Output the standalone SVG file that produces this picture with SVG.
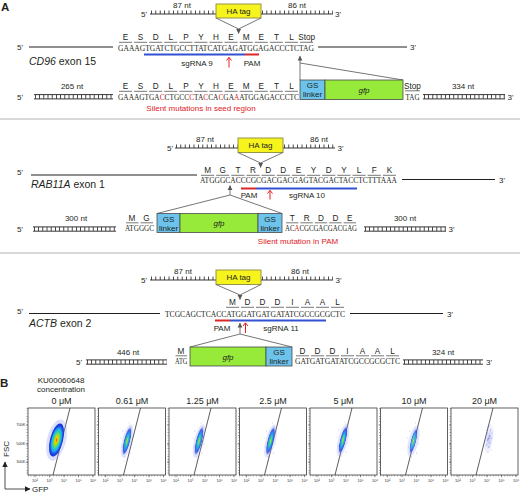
<svg xmlns="http://www.w3.org/2000/svg" width="520" height="493" viewBox="0 0 520 493">
<defs>
<style>
text{font-family:"Liberation Sans",Arial,"DejaVu Sans",sans-serif;fill:#231f20}
.t8{font-size:8px}
.m{text-anchor:middle}
.aa{font-size:8.2px;text-anchor:middle}
.seq{font-family:"Liberation Serif","Times New Roman",serif;font-size:7.6px}
.r{fill:#e0201e}
.gene{font-size:10.5px}
.ttl{font-size:9px;text-anchor:middle}
.tiny{font-size:4px;text-anchor:middle;fill:#333}
.tinyr{font-size:4px;text-anchor:end;fill:#333}
.ln{stroke:#231f20;stroke-width:1;fill:none}
.ul{stroke:#555;stroke-width:0.8}
.gl{stroke:#666;stroke-width:0.9;fill:none}
.base{stroke:#231f20;stroke-width:0.9}
.tk{stroke:#231f20;stroke-width:3.4;stroke-dasharray:0.8 3.6}
.dl{stroke:#231f20;stroke-width:0.9}
.rung{stroke:#231f20;stroke-width:4.2;stroke-dasharray:0.8 3.4}
.ha{fill:#f6f41c;stroke:#8a8a40;stroke-width:0.9}
.gs{fill:#6cc3ec;stroke:#4a4a4a;stroke-width:0.8}
.gfp{fill:#97ea3a;stroke:#4a4a4a;stroke-width:0.8}
.sg{stroke:#3250d2;stroke-width:2}
.pam{stroke:#dc2626;stroke-width:2}
.ra{stroke:#e0201e;stroke-width:1;fill:none}
.sep{stroke:#b4b4b4;stroke-width:1.2}
.fr{fill:#fff;stroke:#3a3a3a;stroke-width:0.8}
.gate{stroke:#333;stroke-width:0.8}
</style>
<marker id="ag" markerWidth="6" markerHeight="6" refX="4.5" refY="3" orient="auto" markerUnits="userSpaceOnUse"><path d="M0,0.6 L4.8,3 L0,5.4 z" fill="#555"/></marker>
<marker id="ak" markerWidth="7" markerHeight="7" refX="5" refY="3.5" orient="auto" markerUnits="userSpaceOnUse"><path d="M0,0.8 L5.5,3.5 L0,6.2 z" fill="#231f20"/></marker>
<radialGradient id="gBig">
<stop offset="0" stop-color="#ff2a00"/>
<stop offset="0.14" stop-color="#ffc400"/>
<stop offset="0.32" stop-color="#9be021"/>
<stop offset="0.5" stop-color="#2fd2a8"/>
<stop offset="0.68" stop-color="#1ea8f0"/>
<stop offset="0.86" stop-color="#1a3fe6"/>
<stop offset="1" stop-color="#1a30d0"/>
</radialGradient>
<radialGradient id="gSm">
<stop offset="0" stop-color="#c6e030"/>
<stop offset="0.25" stop-color="#46d488"/>
<stop offset="0.5" stop-color="#22a4ee"/>
<stop offset="0.8" stop-color="#2a44e2" stop-opacity="0.85"/>
<stop offset="1" stop-color="#6070f0" stop-opacity="0.2"/>
</radialGradient>
<radialGradient id="gSp">
<stop offset="0" stop-color="#6a78e8" stop-opacity="0.45"/>
<stop offset="1" stop-color="#9aa4f0" stop-opacity="0.05"/>
</radialGradient>
<g id="frame">
<rect class="fr" x="0" y="0" width="67" height="67"/>
<line x1="-0.8" y1="0" x2="-0.8" y2="67" stroke="#555" stroke-width="1.4" stroke-dasharray="0.4 2.3"/>
<line x1="0" y1="67.8" x2="67" y2="67.8" stroke="#555" stroke-width="1.4" stroke-dasharray="0.4 2.4"/>
<path d="M-2,17H0M-2,36H0M-2,54H0M7,67V69.3M21.5,67V69.3M36,67V69.3M50.5,67V69.3M65,67V69.3" stroke="#333" stroke-width="0.5"/>
<line class="gate" x1="25" y1="67" x2="42" y2="0"/>
<text class="tiny" x="7" y="73.5">10²</text>
<text class="tiny" x="21.5" y="73.5">10³</text>
<text class="tiny" x="36" y="73.5">10⁴</text>
<text class="tiny" x="50.5" y="73.5">10⁵</text>
<text class="tiny" x="65" y="73.5">10⁶</text>
</g>
<g id="dots" fill="#5566e6" opacity="0.55">
<circle cx="-4" cy="-10" r="0.5"/><circle cx="3" cy="12" r="0.5"/><circle cx="-5" cy="6" r="0.45"/>
<circle cx="4" cy="-14" r="0.45"/><circle cx="-2" cy="16" r="0.5"/><circle cx="5" cy="3" r="0.45"/>
<circle cx="-6" cy="-3" r="0.4"/><circle cx="2" cy="-18" r="0.45"/><circle cx="-3" cy="20" r="0.4"/>
</g>
<g id="sparse" fill="#5a66e0">
<circle cx="-1" cy="-12" r="0.7" opacity="0.6"/><circle cx="1.5" cy="-9" r="0.6" opacity="0.7"/><circle cx="-2" cy="-6" r="0.7" opacity="0.5"/>
<circle cx="0.5" cy="-3" r="0.8" opacity="0.7"/><circle cx="2.5" cy="-1" r="0.6" opacity="0.5"/><circle cx="-1.5" cy="1" r="0.7" opacity="0.6"/>
<circle cx="1" cy="4" r="0.6" opacity="0.7"/><circle cx="-2.5" cy="6" r="0.6" opacity="0.5"/><circle cx="0" cy="8" r="0.7" opacity="0.6"/>
<circle cx="2" cy="11" r="0.5" opacity="0.5"/><circle cx="-1" cy="13" r="0.6" opacity="0.5"/><circle cx="3" cy="-6" r="0.5" opacity="0.5"/>
<circle cx="-3" cy="-9" r="0.5" opacity="0.4"/><circle cx="1" cy="-14" r="0.5" opacity="0.4"/><circle cx="-0.5" cy="-0.5" r="0.8" opacity="0.7"/>
</g>
</defs>
<rect width="520" height="493" fill="#fff"/>

<g id="sep">
<line class="sep" x1="0" y1="119" x2="520" y2="119"/>
<line class="sep" x1="0" y1="253" x2="520" y2="253"/>
</g>

<!-- ============ Panel A1: CD96 ============ -->
<g id="cd96">
<text x="1" y="10.5" font-size="11.5" font-weight="bold">A</text>
<g id="cd96-donor">
<text class="t8" x="141" y="16.5">5'</text>
<line class="base" x1="150" y1="14" x2="216" y2="14"/>
<line class="tk" x1="151" y1="12.2" x2="216" y2="12.2"/>
<text class="t8 m" x="182" y="8">87 nt</text>
<line class="base" x1="261" y1="14" x2="333" y2="14"/>
<line class="tk" x1="262" y1="12.2" x2="333" y2="12.2"/>
<text class="t8 m" x="297" y="8">86 nt</text>
<text class="t8" x="335" y="16.5">3'</text>
<rect class="ha" x="216" y="4" width="45" height="14"/>
<text class="t8 m" x="238.5" y="14">HA tag</text>
<path class="gl" d="M216,18 L238.6,29 L261,18"/>
<line class="gl" x1="238.6" y1="29" x2="238.6" y2="33.5" marker-end="url(#ag)"/>
</g>
<g id="cd96-locus">
<text class="t8" x="17" y="50">5'</text>
<line class="ln" x1="29" y1="47" x2="113" y2="47"/>
<text class="gene" x="29" y="64.5"><tspan font-style="italic">CD96</tspan> exon 15</text>
<text class="aa" y="40"><tspan x="125.5">E</tspan><tspan x="140.6">S</tspan><tspan x="155.7">D</tspan><tspan x="170.8">L</tspan><tspan x="185.9">P</tspan><tspan x="200.9">Y</tspan><tspan x="216">H</tspan><tspan x="231.1">E</tspan><tspan x="246.2">M</tspan><tspan x="261.3">E</tspan><tspan x="276.4">T</tspan><tspan x="291.5">L</tspan><tspan x="306.6">Stop</tspan></text>
<line class="ul" x1="119" y1="42.3" x2="314" y2="42.3" stroke-dasharray="13.08 2"/>
<text class="seq" x="118" y="50.5" textLength="196" lengthAdjust="spacingAndGlyphs">GAAAGTGATCTGCCTTATCATGAGATGGAGACCCTCTAG</text>
<line class="ln" x1="318" y1="47" x2="407" y2="47"/>
<text class="t8" x="410" y="50">3'</text>
<line class="sg" x1="144" y1="54.5" x2="245" y2="54.5"/>
<line class="pam" x1="245" y1="54.5" x2="259" y2="54.5"/>
<text class="t8 m" x="197" y="66">sgRNA 9</text>
<text class="t8 m" x="252" y="66">PAM</text>
<path class="ra" d="M229,67.5 V57.5 M226.5,60.5 L229,57.3 L231.5,60.5"/>
</g>
<g id="cd96-insert">
<line class="gl" x1="300" y1="80" x2="300" y2="56" marker-end="url(#ag)"/>
<line class="gl" x1="300" y1="63" x2="403" y2="80"/>
<text class="t8" x="17" y="99.5">5'</text>
<line class="dl" x1="34" y1="94.6" x2="113" y2="94.6"/>
<line class="dl" x1="34" y1="98.9" x2="113" y2="98.9"/>
<line class="rung" x1="35" y1="96.75" x2="113" y2="96.75"/>
<text class="t8 m" x="72" y="89">265 nt</text>
<text class="aa" y="89"><tspan x="125.5">E</tspan><tspan x="140.6">S</tspan><tspan x="155.7">D</tspan><tspan x="170.8">L</tspan><tspan x="185.9">P</tspan><tspan x="200.9">Y</tspan><tspan x="216">H</tspan><tspan x="231.1">E</tspan><tspan x="246.2">M</tspan><tspan x="261.3">E</tspan><tspan x="276.4">T</tspan><tspan x="291.5">L</tspan></text>
<line class="ul" x1="119" y1="91.3" x2="299" y2="91.3" stroke-dasharray="13.08 2"/>
<text class="seq" x="118" y="99.5" textLength="181" lengthAdjust="spacingAndGlyphs">GAAAGTGA<tspan class="r">C</tspan>CTGCC<tspan class="r">C</tspan>TA<tspan class="r">C</tspan>CA<tspan class="r">C</tspan>GA<tspan class="r">A</tspan>ATGGAGACCCTC</text>
<text class="t8 m r" x="201" y="111">Silent mutations in seed region</text>
<rect class="gs" x="300" y="80" width="25" height="19.5"/>
<rect class="gfp" x="325" y="80" width="78" height="19.5"/>
<text class="t8 m" x="312.5" y="88.3">GS</text>
<text class="t8 m" x="312.5" y="97.3">linker</text>
<text class="t8 m" x="364" y="92.5" font-style="italic">gfp</text>
<text class="aa" x="412.5" y="88.5">Stop</text>
<line class="ul" x1="405" y1="90.8" x2="420" y2="90.8"/>
<text class="seq" x="405.5" y="99.5" textLength="14" lengthAdjust="spacingAndGlyphs">TAG</text>
<line class="dl" x1="423" y1="94.6" x2="505" y2="94.6"/>
<line class="dl" x1="423" y1="98.9" x2="505" y2="98.9"/>
<line class="rung" x1="424" y1="96.75" x2="505" y2="96.75"/>
<text class="t8 m" x="463" y="89">334 nt</text>
<text class="t8" x="507.5" y="99.5">3'</text>
</g>
</g>

<!-- ============ Panel A2: RAB11A ============ -->
<g id="rab11a">
<g id="rab11a-donor">
<text class="t8" x="167" y="150.5">5'</text>
<line class="base" x1="175" y1="148" x2="238" y2="148"/>
<line class="tk" x1="176" y1="146.2" x2="238" y2="146.2"/>
<text class="t8 m" x="205" y="142">87 nt</text>
<line class="base" x1="283" y1="148" x2="335" y2="148"/>
<line class="tk" x1="284" y1="146.2" x2="335" y2="146.2"/>
<text class="t8 m" x="319" y="142">86 nt</text>
<text class="t8" x="337.5" y="150.5">3'</text>
<rect class="ha" x="238" y="138" width="45" height="14.5"/>
<text class="t8 m" x="260.5" y="148.3">HA tag</text>
<path class="gl" d="M238,152.5 L260.6,163 L283,152.5"/>
<line class="gl" x1="260.6" y1="163" x2="260.6" y2="167.5" marker-end="url(#ag)"/>
</g>
<g id="rab11a-locus">
<text class="t8" x="17" y="175">5'</text>
<line class="ln" x1="31" y1="175" x2="197" y2="175"/>
<text class="gene" x="31" y="187.5"><tspan font-style="italic">RAB11A</tspan> exon 1</text>
<text class="aa" y="173"><tspan x="207.6">M</tspan><tspan x="222.7">G</tspan><tspan x="237.9">T</tspan><tspan x="253">R</tspan><tspan x="268.2">D</tspan><tspan x="283.3">D</tspan><tspan x="298.5">E</tspan><tspan x="313.6">Y</tspan><tspan x="328.8">D</tspan><tspan x="343.9">Y</tspan><tspan x="359.1">L</tspan><tspan x="374.2">F</tspan><tspan x="389.4">K</tspan></text>
<line class="ul" x1="201" y1="175.3" x2="397" y2="175.3" stroke-dasharray="13.15 2"/>
<text class="seq" x="200" y="183" textLength="197" lengthAdjust="spacingAndGlyphs">ATGGGCACCCGCGACGACGAGTACGACTACCTCTTTAAA</text>
<line class="ln" x1="402" y1="179.5" x2="495" y2="179.5"/>
<text class="t8" x="499" y="182.5">3'</text>
<line class="pam" x1="241" y1="188.5" x2="256" y2="188.5"/>
<line class="sg" x1="256" y1="188.5" x2="357" y2="188.5"/>
<text class="t8 m" x="249" y="198">PAM</text>
<text class="t8 m" x="307" y="198">sgRNA 10</text>
<path class="ra" d="M270,199.5 V190.5 M267.5,193.5 L270,190.3 L272.5,193.5"/>
</g>
<g id="rab11a-insert">
<line class="gl" x1="230" y1="195" x2="230" y2="185.5" marker-end="url(#ag)"/>
<path class="gl" d="M157,213.5 L230,195 L282,213.5"/>
<text class="t8" x="17" y="231.5">5'</text>
<line class="dl" x1="33" y1="226.9" x2="116" y2="226.9"/>
<line class="dl" x1="33" y1="231.2" x2="116" y2="231.2"/>
<line class="rung" x1="34" y1="229" x2="116" y2="229"/>
<text class="t8 m" x="76" y="220.5">300 nt</text>
<text class="aa" y="220.5"><tspan x="132">M</tspan><tspan x="146.5">G</tspan></text>
<line class="ul" x1="126" y1="222.8" x2="153" y2="222.8" stroke-dasharray="12.5 2"/>
<text class="seq" x="125" y="231" textLength="29" lengthAdjust="spacingAndGlyphs">ATGGGC</text>
<rect class="gs" x="157" y="213.5" width="23" height="19"/>
<rect class="gfp" x="180" y="213.5" width="78" height="19"/>
<rect class="gs" x="258" y="213.5" width="24" height="19"/>
<text class="t8 m" x="168.5" y="221.5">GS</text>
<text class="t8 m" x="168.5" y="230.5">linker</text>
<text class="t8 m" x="219" y="226" font-style="italic">gfp</text>
<text class="t8 m" x="270" y="221.5">GS</text>
<text class="t8 m" x="270" y="230.5">linker</text>
<text class="aa" y="220.5"><tspan x="292.2">T</tspan><tspan x="306.6">R</tspan><tspan x="321">D</tspan><tspan x="335.4">D</tspan><tspan x="349.8">E</tspan></text>
<line class="ul" x1="286" y1="222.8" x2="357" y2="222.8" stroke-dasharray="12.4 2"/>
<text class="seq" x="285" y="231" textLength="72" lengthAdjust="spacingAndGlyphs">AC<tspan class="r">A</tspan>CGCGACGACGAG</text>
<line class="dl" x1="364" y1="226.9" x2="446" y2="226.9"/>
<line class="dl" x1="364" y1="231.2" x2="446" y2="231.2"/>
<line class="rung" x1="365" y1="229" x2="446" y2="229"/>
<text class="t8 m" x="405" y="220.5">300 nt</text>
<text class="t8" x="448.5" y="231.5">3'</text>
<text class="t8 m r" x="298" y="243.5">Silent mutation in PAM</text>
</g>
</g>

<!-- ============ Panel A3: ACTB ============ -->
<g id="actb">
<g id="actb-donor">
<text class="t8" x="141" y="282.5">5'</text>
<line class="base" x1="150" y1="280" x2="216" y2="280"/>
<line class="tk" x1="151" y1="278.2" x2="216" y2="278.2"/>
<text class="t8 m" x="183" y="274">87 nt</text>
<line class="base" x1="261" y1="280" x2="333" y2="280"/>
<line class="tk" x1="262" y1="278.2" x2="333" y2="278.2"/>
<text class="t8 m" x="300" y="274">86 nt</text>
<text class="t8" x="335.5" y="282.5">3'</text>
<rect class="ha" x="216" y="270" width="45" height="14.5"/>
<text class="t8 m" x="238.5" y="280.3">HA tag</text>
<path class="gl" d="M216,284.5 L240,295 L261,284.5"/>
<line class="gl" x1="240" y1="295" x2="240" y2="299.5" marker-end="url(#ag)"/>
</g>
<g id="actb-locus">
<text class="t8" x="17" y="313.5">5'</text>
<line class="ln" x1="29" y1="313.5" x2="160" y2="313.5"/>
<text class="gene" x="29" y="326.5"><tspan font-style="italic">ACTB</tspan> exon 2</text>
<text class="aa" y="305"><tspan x="232.5">M</tspan><tspan x="247.5">D</tspan><tspan x="262.5">D</tspan><tspan x="277.5">D</tspan><tspan x="292.5">I</tspan><tspan x="307.5">A</tspan><tspan x="322.5">A</tspan><tspan x="337.5">L</tspan></text>
<line class="ul" x1="226" y1="307.3" x2="345" y2="307.3" stroke-dasharray="13 2"/>
<text class="seq" x="165" y="316.5" textLength="180" lengthAdjust="spacingAndGlyphs">TCGCAGCTCACCATGGATGATGATATCGCCGCGCTC</text>
<line class="ln" x1="350" y1="313.5" x2="443" y2="313.5"/>
<text class="t8" x="447" y="316.5">3'</text>
<line class="pam" x1="215" y1="320.5" x2="230" y2="320.5"/>
<line class="sg" x1="230" y1="320.5" x2="326" y2="320.5"/>
<text class="t8 m" x="222" y="331">PAM</text>
<text class="t8 m" x="281" y="331">sgRNA 11</text>
<path class="ra" d="M245.5,333 V323 M243,326 L245.5,322.8 L248,326"/>
</g>
<g id="actb-insert">
<line class="gl" x1="240" y1="334" x2="240" y2="323" marker-end="url(#ag)"/>
<path class="gl" d="M190,347 L240,334 L292,347"/>
<text class="t8" x="76" y="364.5">5'</text>
<line class="dl" x1="86" y1="359.9" x2="167" y2="359.9"/>
<line class="dl" x1="86" y1="364.2" x2="167" y2="364.2"/>
<line class="rung" x1="87" y1="362" x2="167" y2="362"/>
<text class="t8 m" x="128" y="355">446 nt</text>
<text class="aa" x="181" y="353.5">M</text>
<line class="ul" x1="175.5" y1="355.8" x2="187" y2="355.8"/>
<text class="seq" x="175" y="364" textLength="12.5" lengthAdjust="spacingAndGlyphs">ATG</text>
<rect class="gfp" x="190" y="347" width="76" height="19"/>
<rect class="gs" x="266" y="347" width="26" height="19"/>
<text class="t8 m" x="228" y="359.5" font-style="italic">gfp</text>
<text class="t8 m" x="279" y="355">GS</text>
<text class="t8 m" x="279" y="364">linker</text>
<text class="aa" y="353.5"><tspan x="302.5">D</tspan><tspan x="317.5">D</tspan><tspan x="332.5">D</tspan><tspan x="347.5">I</tspan><tspan x="362.5">A</tspan><tspan x="377.5">A</tspan><tspan x="392.5">L</tspan></text>
<line class="ul" x1="296" y1="355.8" x2="400" y2="355.8" stroke-dasharray="13 2"/>
<text class="seq" x="295" y="364" textLength="105" lengthAdjust="spacingAndGlyphs">GATGATGATATCGCCGCGCTC</text>
<line class="dl" x1="403" y1="359.9" x2="483" y2="359.9"/>
<line class="dl" x1="403" y1="364.2" x2="483" y2="364.2"/>
<line class="rung" x1="404" y1="362" x2="483" y2="362"/>
<text class="t8 m" x="443" y="355">324 nt</text>
<text class="t8" x="486" y="364.5">3'</text>
</g>
</g>

<!-- ============ Panel B ============ -->
<g id="panelB">
<text x="0" y="387" font-size="11.5" font-weight="bold">B</text>
<text class="t8 m" x="61" y="383" font-size="8.5">KU00060648</text>
<text class="t8 m" x="61" y="392" font-size="8.5">concentration</text>
<g id="axes">
<line x1="5" y1="489" x2="5" y2="462" stroke="#231f20" stroke-width="0.8" marker-end="url(#ak)"/>
<line x1="5" y1="489" x2="30" y2="489" stroke="#231f20" stroke-width="0.8" marker-end="url(#ak)"/>
<text class="t8 m" font-size="8.5" transform="translate(8.5,449) rotate(-90)">FSC</text>
<text class="t8" font-size="8.5" x="32" y="492">GFP</text>
</g>
<g id="plot1" transform="translate(28,408)">
<use href="#frame"/>
<text class="tinyr" x="-2.5" y="18.4">700K</text>
<text class="tinyr" x="-2.5" y="37.4">500K</text>
<text class="tinyr" x="-2.5" y="55.4">300K</text>
<g transform="rotate(14 28.5 32)">
<ellipse cx="28.5" cy="32" rx="9.5" ry="21" fill="#8a98f0" opacity="0.3"/>
<ellipse cx="28.5" cy="32" rx="6.5" ry="17" fill="url(#gBig)"/>
</g>
<use href="#dots" x="28" y="32"/>
</g>
<g id="plot2" transform="translate(98.5,408)">
<use href="#frame"/>
<g transform="rotate(14 28.5 33)">
<ellipse cx="28.5" cy="33" rx="5" ry="17" fill="#8a98f0" opacity="0.25"/>
<ellipse cx="28.5" cy="33" rx="3.3" ry="14.5" fill="url(#gSm)"/>
</g>
<use href="#dots" x="28.5" y="33"/>
</g>
<g id="plot3" transform="translate(169,408)">
<use href="#frame"/>
<g transform="rotate(14 30 33)">
<ellipse cx="30" cy="33" rx="5" ry="17" fill="#8a98f0" opacity="0.25"/>
<ellipse cx="30" cy="33" rx="3.2" ry="14.5" fill="url(#gSm)"/>
</g>
<use href="#dots" x="30" y="33"/>
</g>
<g id="plot4" transform="translate(239.5,408)">
<use href="#frame"/>
<g transform="rotate(14 31 33)">
<ellipse cx="31" cy="33" rx="5" ry="17" fill="#8a98f0" opacity="0.25"/>
<ellipse cx="31" cy="33" rx="3.2" ry="14.5" fill="url(#gSm)"/>
</g>
<use href="#dots" x="31" y="33"/>
</g>
<g id="plot5" transform="translate(310,408)">
<use href="#frame"/>
<g transform="rotate(14 33 32)">
<ellipse cx="33" cy="32" rx="5" ry="17" fill="#8a98f0" opacity="0.25"/>
<ellipse cx="33" cy="32" rx="3.1" ry="14" fill="url(#gSm)"/>
</g>
<use href="#dots" x="33" y="32"/>
</g>
<g id="plot6" transform="translate(380.5,408)">
<use href="#frame"/>
<g transform="rotate(14 33 33)">
<ellipse cx="33" cy="33" rx="5" ry="16" fill="#8a98f0" opacity="0.25"/>
<ellipse cx="33" cy="33" rx="2.8" ry="13" fill="url(#gSm)" opacity="0.85"/>
</g>
<use href="#dots" x="33" y="33"/>
</g>
<g id="plot7" transform="translate(451,408)">
<use href="#frame"/>
<g transform="rotate(10 38 31)">
<ellipse cx="38" cy="31" rx="4.5" ry="15" fill="url(#gSp)"/>
</g>
<use href="#sparse" x="38" y="31"/>
</g>
<g id="titles">
<text class="ttl" x="61.5" y="404">0 μM</text>
<text class="ttl" x="132" y="404">0.61 μM</text>
<text class="ttl" x="202.5" y="404">1.25 μM</text>
<text class="ttl" x="273" y="404">2.5 μM</text>
<text class="ttl" x="343.5" y="404">5 μM</text>
<text class="ttl" x="414" y="404">10 μM</text>
<text class="ttl" x="484.5" y="404">20 μM</text>
</g>
</g>
</svg>
